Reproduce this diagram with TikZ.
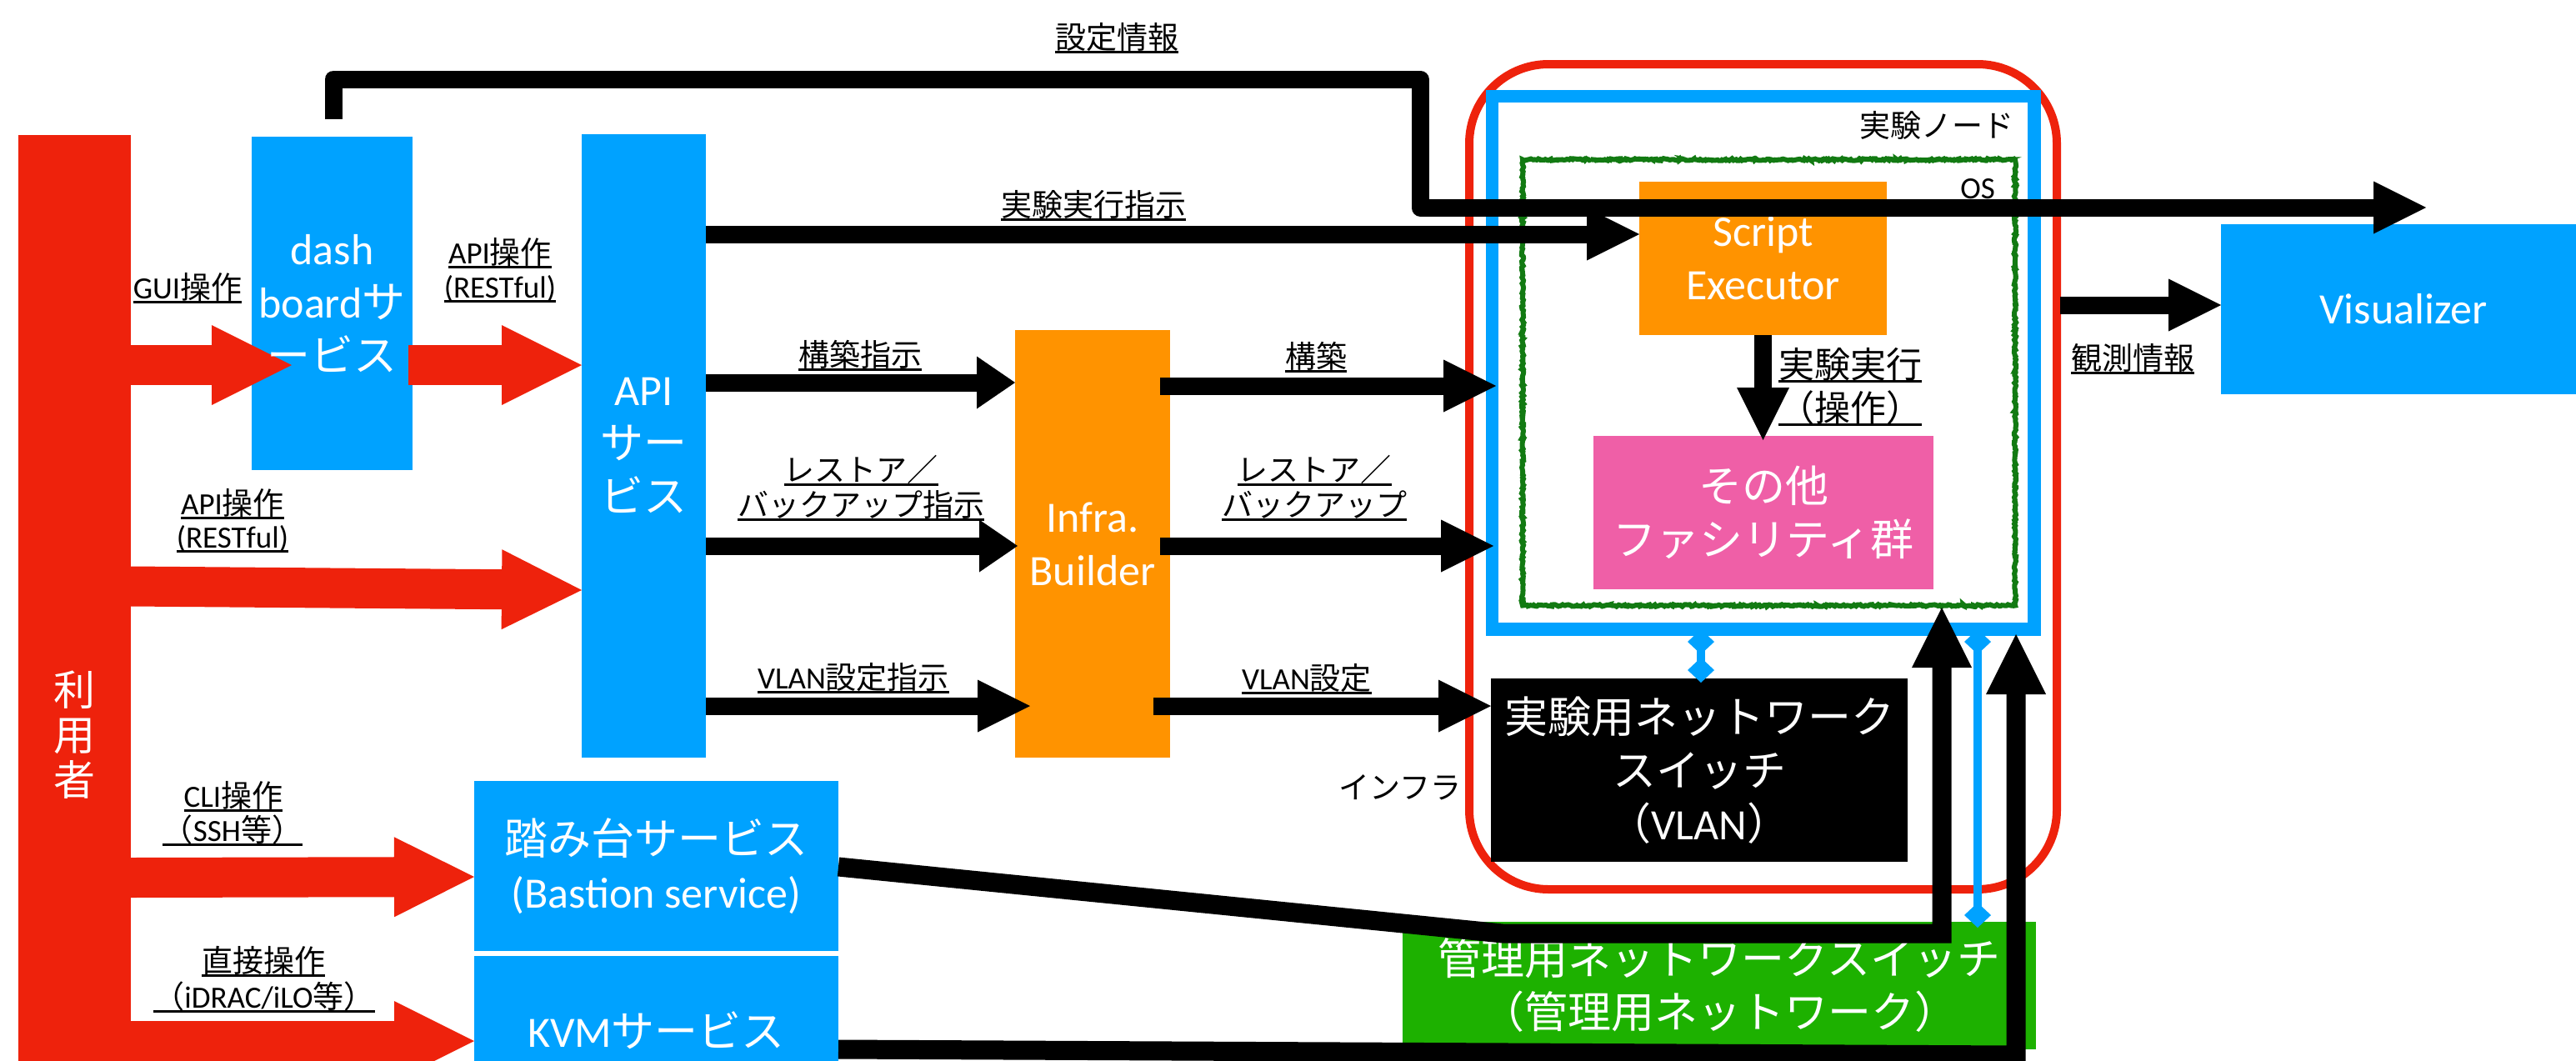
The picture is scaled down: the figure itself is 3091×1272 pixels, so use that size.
\documentclass[tikz,border=0pt]{standalone}
\usepackage{fontspec}
\setmainfont{Noto Sans CJK JP}
\newfontfamily\lt{Carlito}
\usetikzlibrary{arrows.meta,decorations.pathmorphing,calc}
\definecolor{cred}{RGB}{238,34,12}
\definecolor{cblue}{RGB}{0,162,255}
\definecolor{corange}{RGB}{255,147,0}
\definecolor{cpink}{RGB}{239,95,167}
\definecolor{cgreen}{RGB}{29,177,0}
\definecolor{cdgreen}{RGB}{18,122,18}
\newcommand\ul[1]{\setbox0\hbox{#1}\rlap{\rule[-6pt]{\wd0}{3pt}}\box0}
\begin{document}
\begin{tikzpicture}[x=1pt,y=-1pt,
  box/.style={draw=none,inner sep=0pt,outer sep=0pt},
  btxt/.style={text=white,align=center,inner sep=0pt,font=\fontsize{52}{64}\selectfont},
  lab/.style={anchor=base,inner sep=0pt,font=\fontsize{37}{44}\selectfont},
  blab/.style={anchor=base,inner sep=0pt,font=\fontsize{43}{52}\selectfont},
  redarr/.style={draw=cred,line width=48pt,-{Triangle[length=96pt,width=96pt,line width=0pt]}},
  blk/.style={draw=black,line width=21pt,-{Triangle[length=63pt,width=63pt,line width=0pt]}},
  blkshort/.style={draw=black,line width=21pt,-{Triangle[length=46pt,width=63pt,line width=0pt]}},
  blkup/.style={draw=black,line width=23pt,-{Triangle[length=72pt,width=72pt,line width=0pt]}},
  conn/.style={draw=cblue,line width=10pt,{Diamond[length=30pt,width=32pt,line width=0pt]}-{Diamond[length=30pt,width=32pt,line width=0pt]}}
]
\useasboundingbox (0,0) rectangle (3091,1272);
\clip (0,0) rectangle (3091,1272);

% ---- box fills ----
\node[box,fill=cred,minimum width=135pt,minimum height=1440pt] (user) at (89.5,882) {};
\node[box,fill=cblue,minimum width=193pt,minimum height=400pt] (dash) at (398.5,364) {};
\node[box,fill=cblue,minimum width=149pt,minimum height=748pt] (api) at (772.5,535) {};
\node[box,fill=corange,minimum width=186pt,minimum height=513pt] (infra) at (1311,652.5) {};
\node[box,fill=cblue,minimum width=437pt,minimum height=204pt] (bastion) at (787.5,1039) {};
\node[box,fill=cblue,minimum width=437pt,minimum height=204pt] (kvm) at (787.5,1249) {};
\node[box,fill=cblue,minimum width=438pt,minimum height=204pt] (vis) at (2884,371) {};
\node[box,fill=cgreen,minimum width=760pt,minimum height=153pt] (mgmt) at (2063,1182.5) {};

% ---- experiment node frames ----
\draw[cred,line width=10pt,rounded corners=95pt] (1763,77) rectangle (2468,1067);
\draw[cblue,line width=15.5pt] (1790.5,115.5) rectangle (2441,755);
\pgfmathsetseed{7}
\draw[cdgreen,line width=6pt,decorate,decoration={random steps,segment length=2pt,amplitude=1.2pt}] (1827,191.5) rectangle (2418,726.5);

\node[box,fill=corange,minimum width=297pt,minimum height=184pt] (script) at (2115.5,310) {};
\node[box,fill=cpink,minimum width=408pt,minimum height=184pt] (other) at (2116,615) {};
\node[box,fill=black,minimum width=500pt,minimum height=220pt] (expsw) at (2039,924) {};

% ---- red block arrows ----
\coordinate (guitip) at (350,438);
\draw[redarr] (user.east |- 0,438) -- (guitip);
\coordinate (dashout) at (490,438);
\draw[redarr] (dashout) -- (api.west |- 0,438);
\draw[redarr] (user.east |- 0,703.5) -- (api.west |- 0,708);
\draw[redarr] (user.east |- 0,1053) -- (bastion.west |- 0,1052);
\draw[redarr] (user.east |- 0,1249) -- (kvm.west |- 0,1249);

% ---- box texts ----
\node[btxt,font=\fontsize{50}{54}\selectfont] (usert) at (user.center) {利\\用\\者};
\node[btxt] (dasht) at (dash.center) {{\lt dash}\\{\lt board}サ\\ービス};
\node[btxt] (apit) at (api.center) {{\lt API}\\サー\\ビス};
\node[btxt] (infrat) at (infra.center) {{\lt Infra.}\\{\lt Builder}};
\node[btxt] (bastiont) at (bastion.center) {踏み台サービス\\{\lt (Bastion service)}};
\node[btxt] (kvmt) at ($(kvm.center)+(0,-13)$) {{\lt KVM}サービス};
\node[btxt] (vist) at (vis.center) {\lt Visualizer};
\node[btxt] (mgmtt) at (mgmt.center) {管理用ネットワークスイッチ\\（管理用ネットワーク）};
\node[btxt] (scriptt) at (script.center) {{\lt Script}\\{\lt Executor}};
\node[btxt] (othert) at (other.center) {その他\\ファシリティ群};
\node[btxt] (expswt) at (expsw.center) {実験用ネットワーク\\スイッチ\\（{\lt VLAN}）};

% ---- black arrows ----
\coordinate (setstart) at (400,143);
\coordinate (setend) at (2911,249);
\draw[blk,line join=round] (setstart) -- (400,95) -- (1704,95) -- (1704,249) -- (setend);
\draw[blk] (api.east |- 0,281) -- (script.west |- 0,281);
\draw[blkshort] (api.east |- 0,459) -- (infra.west |- 0,459);
\draw[blkshort] (api.east |- 0,655) -- (1221,655);
\draw[blk] (api.east |- 0,847) -- (1236,847);
\draw[blk] (1392,463) -- (1795,463);
\draw[blk] (1392,655) -- (1792,655);
\draw[blk] (1384,847) -- (expsw.west |- 0,847);
\draw[blk] (script.south) -- (2115.5,528);
\draw[blk] (2472,366) -- (vis.west |- 0,366);
\draw[blkup] (bastion.east |- 0,1040) -- (1803,1120) -- (2330,1120) -- (2330,729);
\draw[blkup] (kvm.east |- 0,1259) -- (2419,1266) -- (2419,761);

% ---- blue connectors ----
\draw[conn] (2041,755) -- (2041,819);
\draw[conn] (2373,755) -- (2373,1113);

% ---- labels ----
\node[lab] (l1) at (1340,58) {\ul{設定情報}};
\node[lab] (l2) at (1312,259) {\ul{実験実行指示}};
\node[lab] (l3) at (225,358) {\ul{{\lt GUI}操作}};
\node[lab] (l4a) at (600,316) {\ul{{\lt API}操作}};
\node[lab] (l4b) at (600,357) {\ul{\lt (RESTful)}};
\node[lab] (l5) at (1032,439) {\ul{構築指示}};
\node[lab] (l6) at (1579,441) {\ul{構築}};
\node[lab] (l7a) at (1033,577) {\ul{レストア／}};
\node[lab] (l7b) at (1033,619) {\ul{バックアップ指示}};
\node[lab] (l8a) at (1577,577) {\ul{レストア／}};
\node[lab] (l8b) at (1577,619) {\ul{バックアップ}};
\node[lab] (l9a) at (279,617) {\ul{{\lt API}操作}};
\node[lab] (l9b) at (279,657) {\ul{\lt (RESTful)}};
\node[lab] (l10) at (1024,826) {\ul{{\lt VLAN}設定指示}};
\node[lab] (l11) at (1568,827) {\ul{{\lt VLAN}設定}};
\node[lab] (l12) at (1680,958) {インフラ};
\node[lab] (l13) at (2324,164) {実験ノード};
\node[lab] (l14) at (2373,238) {\lt OS};
\node[blab] (l15a) at (2220,453) {\ul{実験実行}};
\node[blab] (l15b) at (2220,505) {\ul{（操作）}};
\node[lab] (l16) at (2559,443) {\ul{観測情報}};
\node[lab] (l17a) at (280,968) {\ul{{\lt CLI}操作}};
\node[lab] (l17b) at (279,1009) {\ul{（{\lt SSH}等）}};
\node[lab] (l18a) at (316,1166) {\ul{直接操作}};
\node[lab] (l18b) at (317,1209) {\ul{（{\lt iDRAC/iLO}等）}};
\end{tikzpicture}
\end{document}
